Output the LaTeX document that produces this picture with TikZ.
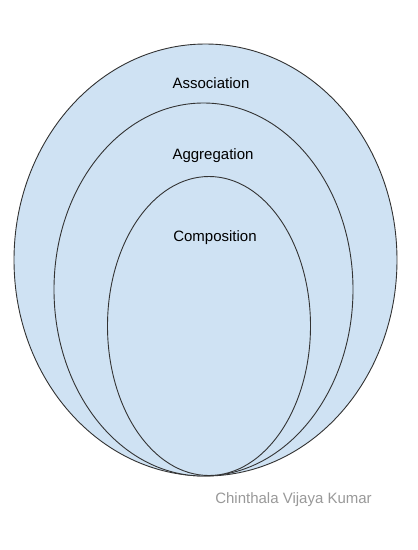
\documentclass[tikz,border=0pt]{standalone}
\usepackage{fontspec}
\setmainfont{Liberation Sans}
\definecolor{fillblue}{HTML}{CFE2F3}
\definecolor{edge}{HTML}{333333}
\definecolor{credit}{HTML}{999999}
\begin{document}
\begin{tikzpicture}[x=1pt,y=-1pt,
  ring/.style={draw=edge,fill=fillblue,line width=0.9pt},
  lbl/.style={font=\fontsize{15}{18}\selectfont,text=black,inner sep=0pt}]
\useasboundingbox (0,0) rectangle (418,550);
\fill[white] (0,0) rectangle (418,550);
\draw[ring] (205.5,260) ellipse [x radius=191.5, y radius=216];
\draw[ring] (203.5,289.5) ellipse [x radius=149.5, y radius=186.5];
\draw[ring] (209,326) ellipse [x radius=101.5, y radius=149.5];
\node[lbl] (assoc) at (211,83.5) {Association};
\node[lbl] (aggr) at (213,155.5) {Aggregation};
\node[lbl] (comp) at (215,237.5) {Composition};
\node[lbl,text=credit] (credit) at (293.5,500) {Chinthala Vijaya Kumar};
\end{tikzpicture}
\end{document}
